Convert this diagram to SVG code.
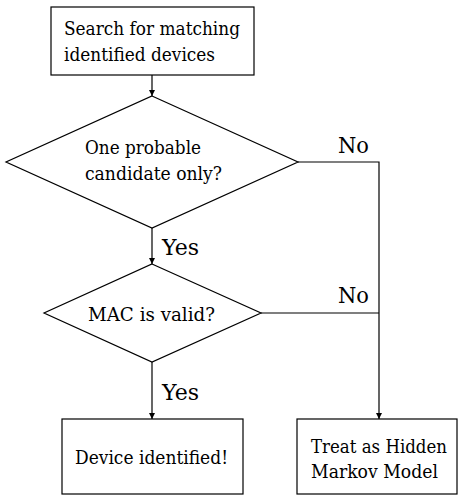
<svg xmlns="http://www.w3.org/2000/svg" width="458" height="495" viewBox="0 0 458 495">
<style>
.n{fill:#fff;stroke:#000;stroke-width:1.2}
.t{font-family:"DejaVu Serif","Liberation Serif",serif;font-size:19px;fill:#000}
.l{font-family:"DejaVu Serif","Liberation Serif",serif;font-size:23px;fill:#000}
.c{fill:none;stroke:#000;stroke-width:1.2}
</style>
<defs>
<marker id="a" viewBox="0 0 10 10" refX="10" refY="5" markerWidth="6" markerHeight="7" markerUnits="userSpaceOnUse" orient="auto">
<path d="M0,0 L10,5 L0,10 z" fill="#000"/>
</marker>
</defs>
<rect width="458" height="495" fill="#fff"/>
<g id="connectors">
<line class="c" x1="152" y1="75" x2="152" y2="96" marker-end="url(#a)"/>
<line class="c" x1="152" y1="228" x2="152" y2="264" marker-end="url(#a)"/>
<line class="c" x1="152" y1="362" x2="152" y2="419" marker-end="url(#a)"/>
<polyline class="c" points="298,162 379,162 379,419" marker-end="url(#a)"/>
<line class="c" x1="261" y1="313" x2="379" y2="313"/>
<text class="l" x="338" y="153" textLength="31" lengthAdjust="spacingAndGlyphs">No</text>
<text class="l" x="162" y="255" textLength="37" lengthAdjust="spacingAndGlyphs">Yes</text>
<text class="l" x="338" y="303" textLength="31" lengthAdjust="spacingAndGlyphs">No</text>
<text class="l" x="162" y="400" textLength="37" lengthAdjust="spacingAndGlyphs">Yes</text>
</g>
<g id="search">
<rect class="n" x="51" y="7" width="203" height="68"/>
<text class="t" x="64" y="35" textLength="176" lengthAdjust="spacingAndGlyphs">Search for matching</text>
<text class="t" x="64" y="61" textLength="151" lengthAdjust="spacingAndGlyphs">identified devices</text>
</g>
<g id="candidate">
<polygon class="n" points="152,96 298,162 152,228 6,162"/>
<text class="t" x="85" y="154" textLength="116" lengthAdjust="spacingAndGlyphs">One probable</text>
<text class="t" x="85" y="180" textLength="137" lengthAdjust="spacingAndGlyphs">candidate only?</text>
</g>
<g id="mac">
<polygon class="n" points="152,264 261,313 152,362 44,313"/>
<text class="t" x="88" y="321" textLength="127" lengthAdjust="spacingAndGlyphs">MAC is valid?</text>
</g>
<g id="identified">
<rect class="n" x="62" y="419" width="181" height="75"/>
<text class="t" x="75" y="464" textLength="153" lengthAdjust="spacingAndGlyphs">Device identified!</text>
</g>
<g id="hmm">
<rect class="n" x="297" y="419" width="160" height="75"/>
<text class="t" x="311" y="453" textLength="136" lengthAdjust="spacingAndGlyphs">Treat as Hidden</text>
<text class="t" x="311" y="478" textLength="127" lengthAdjust="spacingAndGlyphs">Markov Model</text>
</g>
</svg>
